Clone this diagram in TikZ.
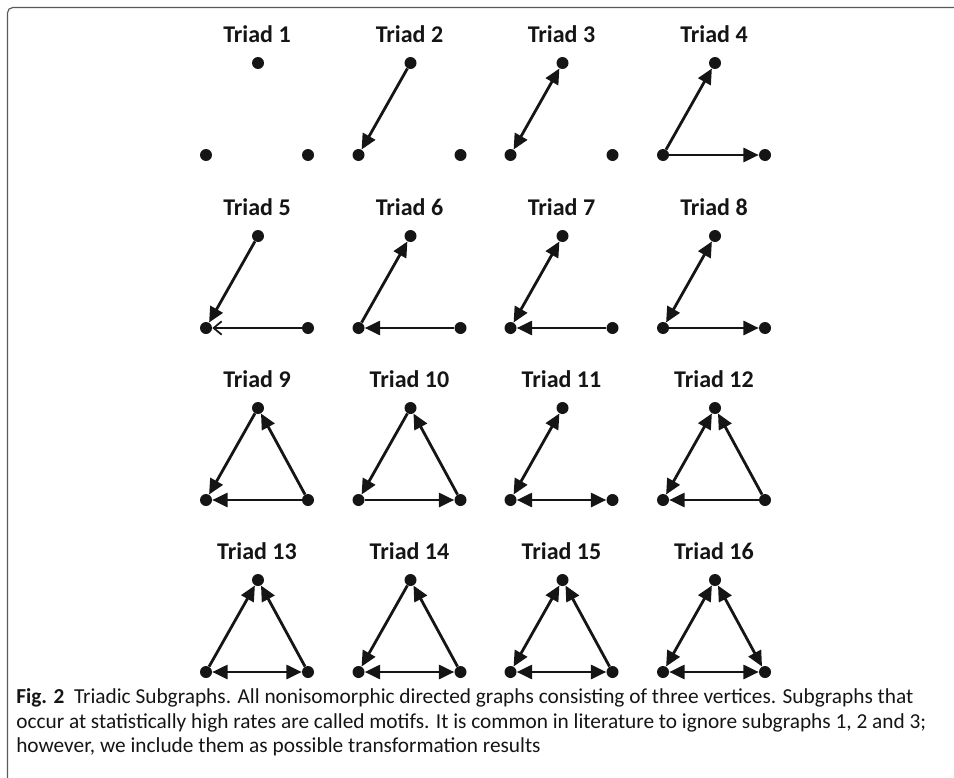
\documentclass[tikz,border=0pt]{standalone}
\usepackage{fontspec}
\setmainfont{Carlito}
\usetikzlibrary{arrows.meta}
\definecolor{ink}{HTML}{151515}
\definecolor{framegray}{HTML}{5A5A5A}
\newcommand\mktriad[3]{% #1 index, #2 centre x, #3 top y
  \node[lab] (lab#1) at (#2, #3-21) {Triad #1};
  \node[dot] (T#1) at (#2+1, #3) {};
  \node[dot] (L#1) at (#2-51, #3+92) {};
  \node[dot] (R#1) at (#2+51, #3+92) {};
}
\begin{document}
\begin{tikzpicture}[x=0.75pt,y=-0.75pt,
  dot/.style={circle,fill=ink,draw=none,minimum size=9pt,inner sep=0pt},
  lab/.style={anchor=base,font=\fontsize{18}{20}\selectfont\bfseries,text=ink,inner sep=0pt},
  edge/.style={draw=ink,line width=2.1pt},
  >={Triangle[length=11.5pt,width=10.5pt]},
  barb/.style={-{Straight Barb[length=6pt,width=10pt,line width=1.3pt]}},
  framel/.style={draw=framegray,line width=0.9pt,rounded corners=4pt},
  captext/.style={anchor=base west,inner sep=0pt,text=ink,font=\fontsize{16}{18}\selectfont}]
\useasboundingbox (0,0) rectangle (954,778);
\draw[framel] (954,7.5) -- (7.5,7.5) -- (7.5,778);
% row 1
\mktriad{1}{257}{63}
\mktriad{2}{409.5}{63}
\mktriad{3}{561.5}{63}
\mktriad{4}{714}{63}
% row 2
\mktriad{5}{257}{236}
\mktriad{6}{409.5}{236}
\mktriad{7}{561.5}{236}
\mktriad{8}{714}{236}
% row 3
\mktriad{9}{257}{408}
\mktriad{10}{409.5}{408}
\mktriad{11}{561.5}{408}
\mktriad{12}{714}{408}
% row 4
\mktriad{13}{257}{580}
\mktriad{14}{409.5}{580}
\mktriad{15}{561.5}{580}
\mktriad{16}{714}{580}
% edges
\draw[edge,->] (T2) -- (L2);
\draw[edge,<->] (T3) -- (L3);
\draw[edge,->] (L4) -- (T4);
\draw[edge,->] (L4) -- (R4);
\draw[edge,->] (T5) -- (L5);
\draw[edge,barb] (R5) -- (L5);
\draw[edge,->] (L6) -- (T6);
\draw[edge,->] (R6) -- (L6);
\draw[edge,<->] (T7) -- (L7);
\draw[edge,->] (R7) -- (L7);
\draw[edge,<->] (T8) -- (L8);
\draw[edge,->] (L8) -- (R8);
\draw[edge,->] (T9) -- (L9);
\draw[edge,->] (R9) -- (L9);
\draw[edge,->] (R9) -- (T9);
\draw[edge,->] (T10) -- (L10);
\draw[edge,->] (L10) -- (R10);
\draw[edge,->] (R10) -- (T10);
\draw[edge,<->] (T11) -- (L11);
\draw[edge,<->] (L11) -- (R11);
\draw[edge,<->] (T12) -- (L12);
\draw[edge,->] (R12) -- (L12);
\draw[edge,->] (R12) -- (T12);
\draw[edge,->] (L13) -- (T13);
\draw[edge,<->] (L13) -- (R13);
\draw[edge,->] (R13) -- (T13);
\draw[edge,->] (T14) -- (L14);
\draw[edge,<->] (L14) -- (R14);
\draw[edge,->] (R14) -- (T14);
\draw[edge,<->] (T15) -- (L15);
\draw[edge,<->] (L15) -- (R15);
\draw[edge,->] (R15) -- (T15);
\draw[edge,<->] (T16) -- (L16);
\draw[edge,<->] (L16) -- (R16);
\draw[edge,<->] (T16) -- (R16);
% caption
\node[captext] (c1) at (16,703) {\textbf{Fig. 2}\ \ Triadic Subgraphs. All nonisomorphic directed graphs consisting of three vertices. Subgraphs that};
\node[captext] (c2) at (16,728) {occur at statistically high rates are called motifs. It is common in literature to ignore subgraphs 1, 2 and 3;};
\node[captext] (c3) at (16,752) {however, we include them as possible transformation results};
\end{tikzpicture}
\end{document}
